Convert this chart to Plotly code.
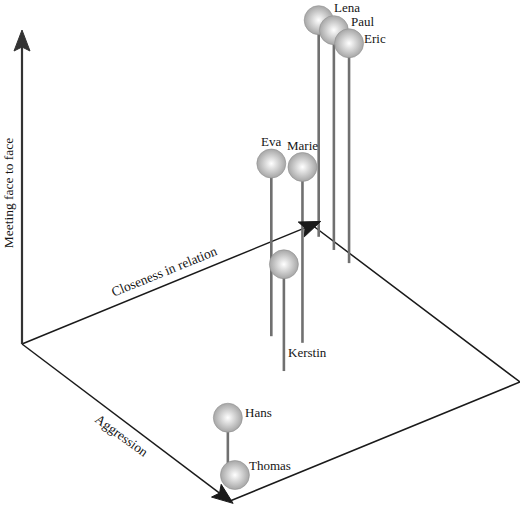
import math
import plotly.graph_objects as go

# people in the relation space, every axis runs 0..1
names = ["Lena", "Paul", "Eric", "Eva", "Marie", "Kerstin", "Hans", "Thomas"]
closeness = [0.98, 0.975, 0.97, 0.58, 0.63, 0.505, 0.093, 0.06]
aggression = [0.06, 0.14, 0.22, 0.39, 0.47, 0.555, 0.86, 0.94]
meeting = [0.69, 0.70, 0.70, 0.55, 0.56, 0.34, 0.16, 0.03]

axis_titles = ["Closeness in relation", "Aggression", "Meeting face to face"]

# oblique projection of the box onto the page (pixels, y pointing down)
origin = (22, 344)
c_vec = (290, -119)
a_vec = (208, 157)
m_vec = (0, -314)

W, H = 520, 505
font = dict(family="Liberation Serif, Times New Roman, serif", size=13, color="#151515")
title_font = dict(font, size=13.5)


def project(c, a, m):
    x = origin[0] + c * c_vec[0] + a * a_vec[0] + m * m_vec[0]
    y = origin[1] + c * c_vec[1] + a * a_vec[1] + m * m_vec[1]
    return x, y


def arrow_head(tail, tip, length=21, width=16, notch=4):
    dx, dy = tip[0] - tail[0], tip[1] - tail[1]
    d = math.hypot(dx, dy)
    ux, uy = dx / d, dy / d
    nx, ny = -uy, ux
    bx, by = tip[0] - ux * length, tip[1] - uy * length
    kx, ky = bx + ux * notch, by + uy * notch
    xs = [tip[0], bx + nx * width / 2, kx, bx - nx * width / 2, tip[0]]
    ys = [tip[1], by + ny * width / 2, ky, by - ny * width / 2, tip[1]]
    return xs, ys, (kx, ky)


fig = go.Figure()

# floor outline (back and front edges, the other two are the arrows)
floor = [project(1, 0, 0), project(1, 1, 0), project(0, 1, 0)]
fig.add_trace(go.Scatter(x=[p[0] for p in floor], y=[p[1] for p in floor], mode="lines",
                         line=dict(color="#1a1a1a", width=1.5), hoverinfo="skip"))

o = project(0, 0, 0)
arrows = [
    (project(1.03, 0, 0), "#1a1a1a", 1.5),
    (project(0, 1.015, 0), "#1a1a1a", 1.5),
    (project(0, 0, 1), "#333333", 2.2),
]
heads = []
for tip, col, lw in arrows:
    hx, hy, k = arrow_head(o, tip)
    heads.append((hx, hy, col))
    fig.add_trace(go.Scatter(x=[o[0], k[0]], y=[o[1], k[1]], mode="lines",
                             line=dict(color=col, width=lw), hoverinfo="skip"))

# sticks from the floor up to each ball
sx, sy = [], []
for c, a, m in zip(closeness, aggression, meeting):
    b = project(c, a, 0)
    t = project(c, a, m)
    sx += [b[0], t[0], None]
    sy += [b[1], t[1], None]
fig.add_trace(go.Scatter(x=sx, y=sy, mode="lines", line=dict(color="#707070", width=2.6),
                         hoverinfo="skip"))

for hx, hy, col in heads:
    fig.add_trace(go.Scatter(x=hx, y=hy, mode="lines", fill="toself", fillcolor=col,
                             line=dict(color=col, width=1), hoverinfo="skip"))

# balls
balls = [project(c, a, m) for c, a, m in zip(closeness, aggression, meeting)]
fig.add_trace(go.Scatter(
    x=[p[0] for p in balls], y=[p[1] for p in balls], mode="markers", text=names,
    hoverinfo="text",
    marker=dict(size=29, color="#a6a6a6", line=dict(color="#909090", width=0.6),
                gradient=dict(type="radial", color="#ffffff")),
))

# name labels: (anchor, xanchor, dx, dy) in screen pixels
label_pos = {
    "Lena": ("top", "left", 13, -13),
    "Paul": ("top", "left", 15, -9),
    "Eric": ("top", "left", 13, -5),
    "Eva": ("top", "center", 0, -22),
    "Marie": ("top", "center", 0, -21),
    "Kerstin": ("base", "left", 2, -19),
    "Hans": ("top", "left", 15, -5),
    "Thomas": ("top", "left", 12, -10),
}
annotations = []
for n, c, a, m in zip(names, closeness, aggression, meeting):
    where, xa, dx, dy = label_pos[n]
    p = project(c, a, m if where == "top" else 0)
    annotations.append(dict(x=p[0], y=p[1], text=n, showarrow=False, xanchor=xa,
                            yanchor="middle", xshift=dx, yshift=-dy, font=font))

# axis titles along the axes
for title, pos, ang, shift in [
    (axis_titles[0], project(0.49, 0, 0), -22, (0, 14)),
    (axis_titles[1], project(0, 0.46, 0), 36, (4, -19)),
    (axis_titles[2], project(0, 0, 0.48), -90, (-14, 0)),
]:
    annotations.append(dict(x=pos[0], y=pos[1], text=title, showarrow=False, textangle=ang,
                            xshift=shift[0], yshift=shift[1], font=title_font))

fig.update_layout(
    width=W, height=H, margin=dict(l=0, r=0, t=0, b=0),
    paper_bgcolor="white", plot_bgcolor="white", showlegend=False,
    xaxis=dict(range=[0, W], visible=False, fixedrange=True),
    yaxis=dict(range=[H, 0], visible=False, fixedrange=True),
    annotations=annotations,
)

# drop the browser's default body margin so the chart sits at the page corner
fig.write_html("out.html", config={"displayModeBar": False},
               post_script="document.body.style.margin = '0';")
